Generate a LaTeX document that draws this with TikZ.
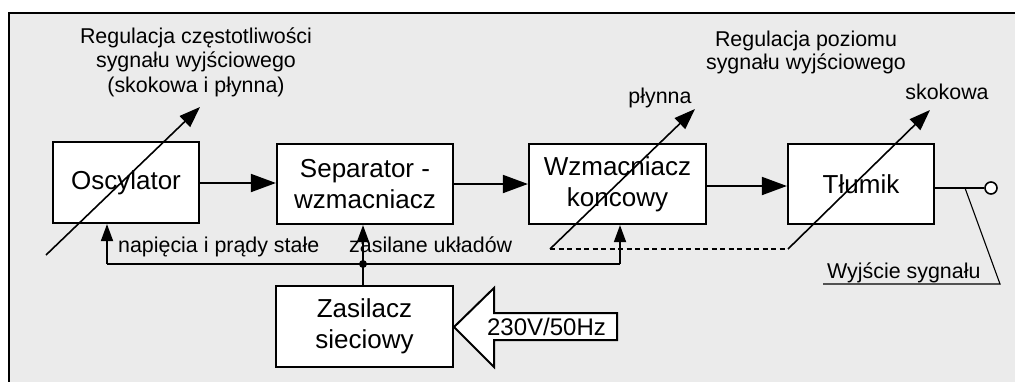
\documentclass[tikz,border=0pt]{standalone}
\usepackage{fontspec}
\setmainfont{Liberation Sans}
\usetikzlibrary{arrows.meta}
\definecolor{bg}{RGB}{235,235,235}
\begin{document}
\begin{tikzpicture}[x=1pt,y=-1pt,
  box/.style={draw, fill=white, line width=2.2pt, align=center, inner sep=0pt,
    font=\fontsize{26}{31}\selectfont},
  conn/.style={line width=1.8pt},
  bigtip/.style={-{Triangle[length=25pt,width=18pt]}},
  smalltip/.style={-{Triangle[length=17pt,width=12pt]}},
  diag/.style={line width=1.6pt,-{Triangle[length=21pt,width=15pt]}},
  lbl/.style={font=\fontsize{21.4}{24}\selectfont, inner sep=0pt},
]
\useasboundingbox (0,0) rectangle (1015,381);
\fill[bg] (9,13) rectangle (1030,400);
\draw[line width=1.4pt] (9,400) -- (9,13) -- (1030,13);

% boxes
\node[box, minimum width=146, minimum height=81] (osc) at (126,182.5) {Oscylator};
\node[box, minimum width=176, minimum height=80] (sep) at (365,184) {Separator -\\wzmacniacz};
\node[box, minimum width=177, minimum height=80] (wz) at (617.5,184) {Wzmacniacz\\koncowy};
\node[box, minimum width=146, minimum height=80] (tl) at (861,184) {Tłumik};
\node[box, minimum width=177, minimum height=81] (zas) at (364.5,326.5) {Zasilacz\\sieciowy};

% signal path
\draw[conn,bigtip] (osc.east |- 0,183) -- (sep.west |- 0,183);
\draw[conn,bigtip] (sep.east) -- (wz.west);
\draw[conn,bigtip] (wz.east |- 0,186) -- (tl.west |- 0,186);

% output
\node[circle, draw, fill=white, line width=1.6pt, inner sep=0pt, minimum size=12] (outc) at (991,188) {};
\draw[conn] (tl.east |- outc) -- (outc.west);
\coordinate (p1) at (965,188);
\coordinate (p2) at (1000,284);
\coordinate (p3) at (823,284);
\draw[line width=1.1pt] (p1) -- (p2) -- (p3);
\node[lbl, anchor=base west] (wyj) at (827,278) {Wyjście sygnału};

% power distribution
\coordinate (pl) at (107,264);
\coordinate (pr) at (620,264);
\node[circle, fill, inner sep=0pt, minimum size=8] (dot) at (363,264) {};
\draw[conn] (pl) -- (pr);
\draw[conn,smalltip] (pl) -- (pl |- osc.south);
\draw[conn,smalltip] (pr) -- (pr |- wz.south);
\draw[conn,smalltip] (dot |- zas.north) -- (dot |- sep.south);
\node[lbl, anchor=base west] (nap) at (118,252) {napięcia i prądy stałe};
\node[lbl, anchor=base west] (zasl) at (349,252) {zasilane układów};

% mains block arrow
\draw[line width=2pt, fill=white] (454,327) -- (494,288) -- (494,313) -- (617,313)
  -- (617,340) -- (494,340) -- (494,367) -- cycle;
\node[font=\fontsize{24}{28}\selectfont, inner sep=0pt] (mains) at (546.5,327) {230V/50Hz};

% regulation arrows
\coordinate (d1s) at (46,255);
\coordinate (d1e) at (200,107);
\coordinate (d2s) at (550,249);
\coordinate (d2e) at (695,109);
\coordinate (d3s) at (788,249);
\coordinate (d3e) at (930,110);
\draw[diag] (d1s) -- (d1e);
\draw[diag] (d2s) -- (d2e);
\draw[diag] (d3s) -- (d3e);
\draw[line width=1.5pt, dash pattern=on 5pt off 3.5pt] (d2s) -- (d3s);

% labels
\node[lbl, anchor=base] (r1a) at (196,43) {Regulacja częstotliwości};
\node[lbl, anchor=base] (r1b) at (196,67) {sygnału wyjściowego};
\node[lbl, anchor=base] (r1c) at (196,92) {(skokowa i płynna)};
\node[lbl, anchor=base] (r2a) at (806,46) {Regulacja poziomu};
\node[lbl, anchor=base] (r2b) at (806,69) {sygnału wyjściowego};
\node[lbl, anchor=base] (pl1) at (660,103) {płynna};
\node[lbl, anchor=base] (sk1) at (947,99) {skokowa};
\end{tikzpicture}
\end{document}
